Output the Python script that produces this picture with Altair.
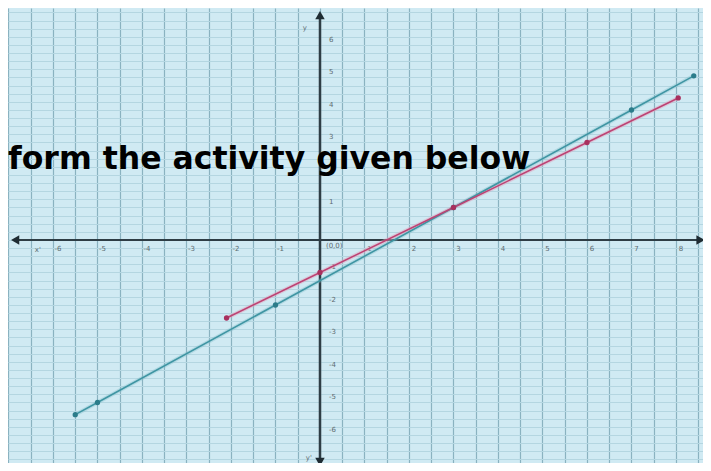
import altair as alt
import pandas as pd

# ---- data ----
blue_x = [-5.5, -5, -1, 3, 7, 8.4]
blue_y = [-5.375, -5, -2, 1, 4, 5.05]
red_x = [-2.1, 0, 3, 6, 8.05]
red_y = [-2.4, -1, 1, 3, 4.37]

x_tick_vals = [-6, -5, -4, -3, -2, -1, 1, 2, 3, 4, 5, 6, 7, 8]
y_tick_vals = [6, 5, 4, 3, 1, -1, -2, -3, -4, -5, -6]

axis_x_ext = [-6.85, 8.55]
axis_y_ext = [-6.83, 6.92]

name_labels = ["x'", "y", "y'", "(0,0)"]
name_x = [-6.34, -0.34, -0.25, 0.32]
name_y = [-0.3, 6.52, -6.7, -0.2]

grid_x_vals = [i * 0.5 for i in range(-14, 18)]
grid_y_vals = [i * 0.25 for i in range(-28, 29)]

overlay_text = "form the activity given below"

# ---- scales / shared axes (graph-paper grid) ----
xs = alt.Scale(domain=[-7.011, 8.607], nice=False, zero=False)
ys = alt.Scale(domain=[-6.862, 7.138], nice=False, zero=False)
gx = alt.Axis(values=grid_x_vals, grid=True, gridColor="#8ab2c0", gridWidth=1.2,
              labels=False, ticks=False, domain=False, title=None)
gy = alt.Axis(values=grid_y_vals, grid=True, gridColor="#b4d6e1", gridWidth=1,
              labels=False, ticks=False, domain=False, title=None)


def X(f):
    return alt.X(f, scale=xs, axis=gx)


def Y(f):
    return alt.Y(f, scale=ys, axis=gy)


blue_df = pd.DataFrame({"x": blue_x, "y": blue_y})
red_df = pd.DataFrame({"x": red_x, "y": red_y})

# axes lines
xaxis_df = pd.DataFrame({"x": [axis_x_ext[0]], "x2": [axis_x_ext[1]], "y": [0]})
yaxis_df = pd.DataFrame({"x": [0], "y": [axis_y_ext[0]], "y2": [axis_y_ext[1]]})
xaxis = alt.Chart(xaxis_df).mark_rule(color="#2e3d45", strokeWidth=2).encode(
    x=X("x:Q"), x2="x2:Q", y=Y("y:Q"))
yaxis = alt.Chart(yaxis_df).mark_rule(color="#2e3d45", strokeWidth=2.5).encode(
    x=X("x:Q"), y=Y("y:Q"), y2="y2:Q")

arrow_df = pd.DataFrame({
    "x": [axis_x_ext[0], axis_x_ext[1], 0, 0],
    "y": [0, 0, axis_y_ext[1], axis_y_ext[0]],
    "d": ["l", "r", "u", "d"],
})
arrows = alt.Chart(arrow_df).mark_point(filled=True, size=90, opacity=1, color="#1f2c33").encode(
    x=X("x:Q"), y=Y("y:Q"),
    shape=alt.Shape("d:N", scale=alt.Scale(domain=["l", "r", "u", "d"],
                                           range=["triangle-left", "triangle-right", "triangle-up", "triangle-down"]),
                    legend=None),
)

# tick labels
xt_df = pd.DataFrame({"x": x_tick_vals, "y": [0] * len(x_tick_vals), "t": [str(v) for v in x_tick_vals]})
yt_df = pd.DataFrame({"x": [0] * len(y_tick_vals), "y": y_tick_vals, "t": [str(v) for v in y_tick_vals]})
xticks = alt.Chart(xt_df).mark_text(fontSize=7, color="#5d6b70", dx=5, dy=9, font="DejaVu Sans").encode(
    x=X("x:Q"), y=Y("y:Q"), text="t:N")
yticks = alt.Chart(yt_df).mark_text(fontSize=7, color="#5d6b70", dx=9, dy=-5, align="left", font="DejaVu Sans").encode(
    x=X("x:Q"), y=Y("y:Q"), text="t:N")

nl_df = pd.DataFrame({"x": name_x, "y": name_y, "t": name_labels})
names = alt.Chart(nl_df).mark_text(fontSize=7, color="#5d6b70", font="DejaVu Sans").encode(
    x=X("x:Q"), y=Y("y:Q"), text="t:N")

# lines
blue_halo = alt.Chart(blue_df).mark_line(color="#7fbcc8", strokeWidth=4, opacity=0.35).encode(
    x=X("x:Q"), y=Y("y:Q"))
blue_line = alt.Chart(blue_df).mark_line(color="#3f95a3", strokeWidth=1.6).encode(
    x=X("x:Q"), y=Y("y:Q"))
blue_pts = alt.Chart(blue_df).mark_point(filled=True, size=28, opacity=1, color="#2b7c8a").encode(
    x=X("x:Q"), y=Y("y:Q"))

red_halo = alt.Chart(red_df).mark_line(color="#e3a0bb", strokeWidth=4, opacity=0.45).encode(
    x=X("x:Q"), y=Y("y:Q"))
red_line = alt.Chart(red_df).mark_line(color="#bd4273", strokeWidth=1.5).encode(
    x=X("x:Q"), y=Y("y:Q"))
red_pts = alt.Chart(red_df).mark_point(filled=True, size=28, opacity=1, color="#a8305e").encode(
    x=X("x:Q"), y=Y("y:Q"))

# overlay heading text
txt_df = pd.DataFrame({"t": [overlay_text]})
overlay = alt.Chart(txt_df).mark_text(fontSize=31.5, fontWeight="bold", font="DejaVu Sans", color="#000000",
                                      align="left", baseline="alphabetic").encode(
    x=alt.value(0), y=alt.value(161), text="t:N")

chart = alt.layer(
    xaxis, yaxis, arrows, xticks, yticks, names,
    blue_halo, red_halo, blue_line, red_line, blue_pts, red_pts, overlay
).properties(
    width=695, height=455,
    autosize=alt.AutoSizeParams(type="none"),
    padding=0,
    background="#d0eaf3",
).configure_view(strokeWidth=0, fill="#d0eaf3")

chart.save("out.html", embed_options={"renderer": "svg", "actions": False})
